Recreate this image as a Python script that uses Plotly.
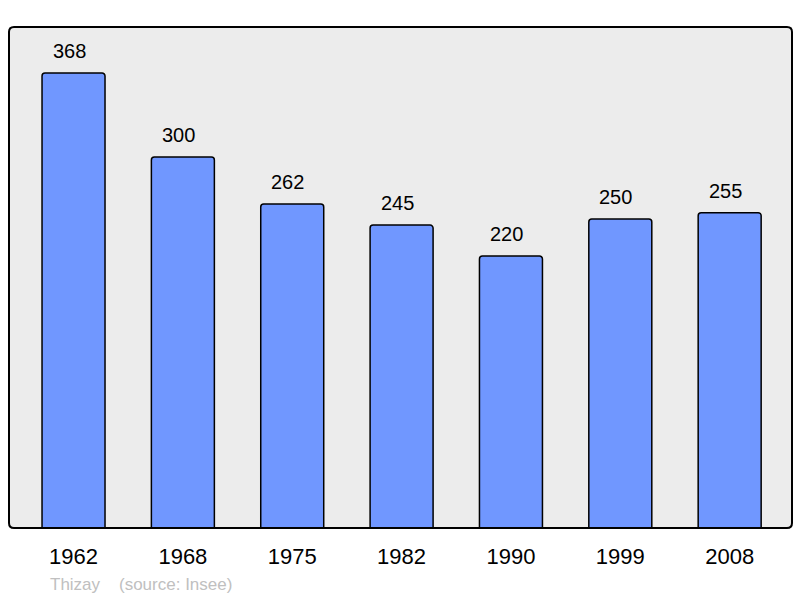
import plotly.graph_objects as go

years = ["1962", "1968", "1975", "1982", "1990", "1999", "2008"]
population = [368, 300, 262, 245, 220, 250, 255]
town = "Thizay"
source = "(source: Insee)"

W, H = 800, 598
L, R, T, B = 9, 8, 27, 70
pw, ph = W - L - R, H - T - B

fig = go.Figure()
fig.add_trace(go.Bar(
    x=years, y=population,
    text=[str(v) for v in population], textposition="none",
    marker=dict(color="#7097ff", line=dict(color="#000000", width=1.5), cornerradius=3),
    hoverinfo="skip",
))

for i, v in enumerate(population):
    fig.add_annotation(x=i, y=v, xref="x", yref="y", text=str(v), showarrow=False,
                       xshift=-4.5, yshift=22, yanchor="middle",
                       font=dict(size=20, color="#000000"))

# rounded frame
r = 5
rx, ry = r / pw, r / ph
path = (f"M {rx},0 L {1-rx},0 Q 1,0 1,{ry} L 1,{1-ry} Q 1,1 {1-rx},1 "
        f"L {rx},1 Q 0,1 0,{1-ry} L 0,{ry} Q 0,0 {rx},0 Z")
fig.add_shape(type="path", xref="paper", yref="paper", path=path,
              line=dict(color="#000000", width=2), fillcolor="rgba(0,0,0,0)", layer="above")

fy = -(584 - (T + ph)) / ph
fig.add_annotation(xref="paper", yref="paper", x=(48 - L) / pw, y=fy,
                   xanchor="left", yanchor="middle", text=town, showarrow=False,
                   font=dict(size=17, color="#c0c0c0"))
fig.add_annotation(xref="paper", yref="paper", x=(117 - L) / pw, y=fy,
                   xanchor="left", yanchor="middle", text=source, showarrow=False,
                   font=dict(size=17, color="#c0c0c0"))

fig.update_layout(
    width=W, height=H,
    margin=dict(l=L, r=R, t=T, b=B, pad=0),
    paper_bgcolor="#ffffff", plot_bgcolor="#ececec",
    font=dict(family="Liberation Sans, Arial, sans-serif"),
    bargap=0.424, showlegend=False,
    xaxis=dict(type="category", range=[-0.59, 6.57], showgrid=False, zeroline=False,
               showline=False, ticks="outside", ticklen=9, tickcolor="rgba(0,0,0,0)",
               tickfont=dict(size=22, color="#000000"), fixedrange=True),
    yaxis=dict(range=[0, 405.2], showgrid=False, zeroline=False, showline=False,
               showticklabels=False, fixedrange=True),
)

fig.write_html("out.html", config={"displayModeBar": False},
               post_script="document.body.style.margin='0';document.body.style.padding='0';document.body.style.overflow='hidden';")
